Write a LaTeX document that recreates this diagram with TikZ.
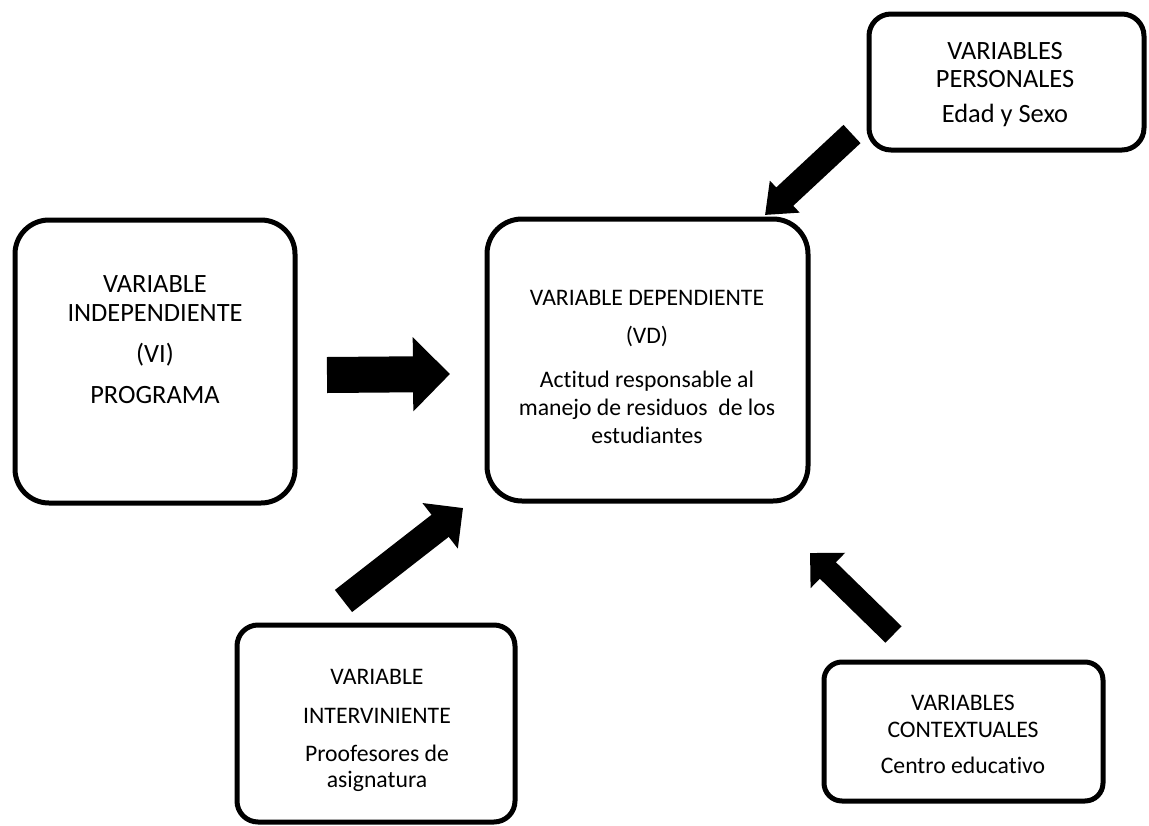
\documentclass[tikz,border=0pt]{standalone}
\usepackage{fontspec}
\setmainfont{Carlito}[Ligatures=NoCommon]
\usetikzlibrary{arrows.meta}
\begin{document}
\begin{tikzpicture}[x=1pt,y=-1pt,
  box/.style={draw=black, line width=5pt, inner sep=0pt},
  lbl/.style={anchor=base, inner sep=0pt},
  bigfont/.style={font=\fontsize{26.4}{29}\selectfont},
  smallfont/.style={font=\fontsize{23.7}{28}\selectfont},
  blockarrow/.style={draw=black, line cap=butt},
]
\useasboundingbox (0,0) rectangle (1149,825);

% boxes
\node[box, minimum width=280pt, minimum height=283pt, rounded corners=34pt] (vi) at (155,361.5) {};
\node[box, minimum width=321pt, minimum height=282pt, rounded corners=35pt] (vd) at (647.5,360) {};
\node[box, minimum width=275pt, minimum height=136pt, rounded corners=22pt] (vp) at (1006.5,82) {};
\node[box, minimum width=278pt, minimum height=197pt, rounded corners=21pt] (vin) at (376,723.5) {};
\node[box, minimum width=279pt, minimum height=139pt, rounded corners=18pt] (vc) at (963.5,731.5) {};

% texts
\node[lbl, bigfont] (vi-t) at (155,292) {\begin{tabular}[t]{@{}c@{}}VARIABLE\\INDEPENDIENTE\\[12pt](VI)\\[12pt]PROGRAMA\end{tabular}};
\node[lbl, smallfont] (vd-t) at (647,305) {\begin{tabular}[t]{@{}c@{}}VARIABLE DEPENDIENTE\\[10pt](VD)\\[16pt]Actitud responsable al\\manejo de residuos~ de los\\estudiantes\end{tabular}};
\node[lbl, font=\fontsize{26.4}{28}\selectfont] (vp-t) at (1005,59) {\begin{tabular}[t]{@{}c@{}}VARIABLES\\PERSONALES\\[7pt]Edad y Sexo\end{tabular}};
\node[lbl, font=\fontsize{23.7}{26}\selectfont] (vin-t) at (377,684) {\begin{tabular}[t]{@{}c@{}}VARIABLE\\[13pt]INTERVINIENTE\\[12pt]Proofesores de\\asignatura\end{tabular}};
\node[lbl, font=\fontsize{23.7}{27}\selectfont] (vc-t) at (963,710) {\begin{tabular}[t]{@{}c@{}}VARIABLES\\CONTEXTUALES\\[9pt]Centro educativo\end{tabular}};

% arrow ends
\coordinate (a1s) at (327,375);
\coordinate (a1e) at (450,374);
\coordinate (a2s) at (852,134);
\coordinate (a2e) at (765,215);
\coordinate (a3s) at (343.5,601);
\coordinate (a3e) at (463,508);
\coordinate (a4s) at (893.5,634.5);
\coordinate (a4e) at (810,553);

% block arrows
\draw[blockarrow, line width=36pt, -{Triangle[length=37pt,width=72pt]}] (a1s) -- (a1e);
\draw[blockarrow, line width=25pt, -{Triangle[length=27pt,width=42pt]}] (a2s) -- (a2e);
\draw[blockarrow, line width=28pt, -{Triangle[length=29pt,width=56pt]}] (a3s) -- (a3e);
\draw[blockarrow, line width=23pt, -{Triangle[length=25pt,width=48pt]}] (a4s) -- (a4e);
\end{tikzpicture}
\end{document}
